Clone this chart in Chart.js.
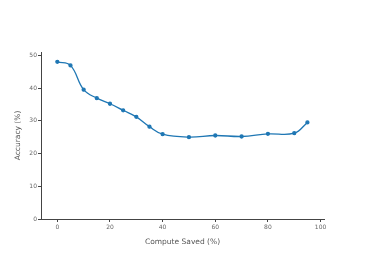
<!DOCTYPE html>
<html>
<head>
<meta charset="utf-8">
<script src="https://cdn.jsdelivr.net/npm/chart.js@4"></script>
<style>
  html, body { margin: 0; padding: 0; background: #fff; }
  #c { display: block; }
</style>
</head>
<body>
<canvas id="c" width="366" height="261"></canvas>
<script>
// valeurs
const computeSaved = [0, 5, 10, 15, 20, 25, 30, 35, 40, 50, 60, 70, 80, 90, 95];
const accuracy = [48.0, 46.9, 39.5, 36.9, 35.2, 33.2, 31.2, 28.2, 25.9, 25.0, 25.5, 25.2, 26.0, 26.2, 29.5];
const xTicks = [0, 20, 40, 60, 80, 100];
const yTicks = [0, 10, 20, 30, 40, 50];

const BLUE = '#1f77b4';
const GREY = '#444';
const tickFont = { family: 'DejaVu Sans', size: 6 };
const titleFont = { family: 'DejaVu Sans', size: 7.5 };

new Chart(document.getElementById('c'), {
  type: 'line',
  data: {
    datasets: [{
      data: computeSaved.map((x, i) => ({ x, y: accuracy[i] })),
      borderColor: BLUE,
      backgroundColor: BLUE,
      borderWidth: 1.3,
      pointRadius: 1.5,
      pointHoverRadius: 2,
      tension: 0.4,
      fill: false,
    }]
  },
  options: {
    responsive: false,
    animation: false,
    layout: { padding: { left: 10, top: 52, right: 42, bottom: 10 } },
    plugins: { legend: { display: false }, tooltip: { enabled: false } },
    scales: {
      x: {
        type: 'linear',
        min: -6.2,
        max: 101.3,
        afterBuildTicks: axis => { axis.ticks = xTicks.map(v => ({ value: v })); },
        afterFit: axis => { axis.height = 32; },
        grid: { drawOnChartArea: false, drawTicks: true, tickLength: 3, color: GREY },
        border: { color: GREY, width: 1 },
        ticks: { color: '#666', font: tickFont, padding: 2, maxRotation: 0 },
        title: { display: true, text: 'Compute Saved (%)', color: '#555', font: titleFont, padding: { top: 3 } }
      },
      y: {
        min: 0,
        max: 51,
        afterBuildTicks: axis => { axis.ticks = yTicks.map(v => ({ value: v })); },
        afterFit: axis => { axis.width = 31; },
        grid: { drawOnChartArea: false, drawTicks: true, tickLength: 3, color: GREY },
        border: { color: GREY, width: 1 },
        ticks: { color: '#666', font: tickFont, padding: 1 },
        title: { display: true, text: 'Accuracy (%)', color: '#555', font: titleFont, padding: { bottom: 4 } }
      }
    }
  }
});
</script>
</body>
</html>
